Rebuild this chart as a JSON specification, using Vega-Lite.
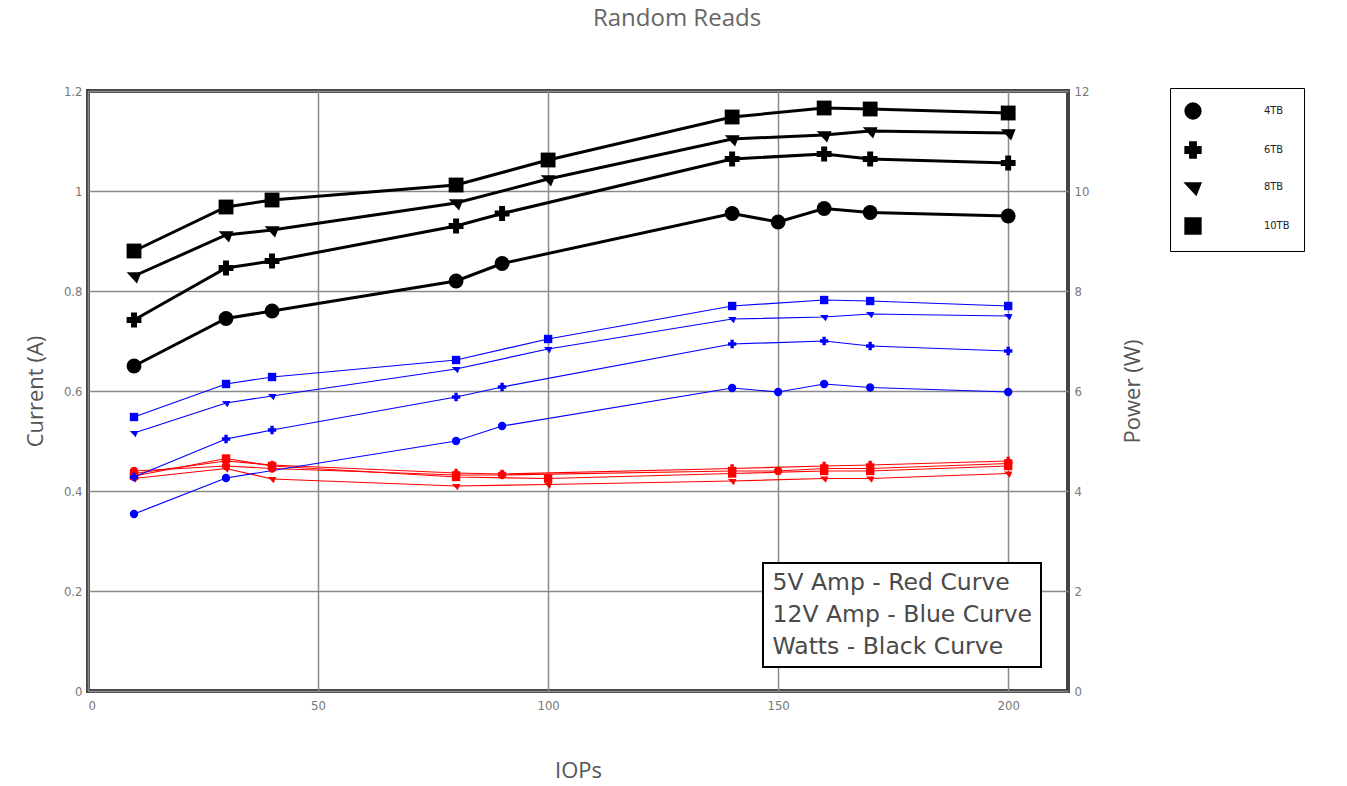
{
  "$schema": "https://vega.github.io/schema/vega-lite/v6.json",
  "width": 980,
  "height": 600,
  "autosize": {"type": "none"},
  "padding": {"left": 88, "top": 91, "right": 279, "bottom": 95},
  "background": "white",
  "config": {
    "view": {"stroke": "#444444", "strokeWidth": 4},
    "axis": {
      "labelFont": "DejaVu Sans Condensed",
      "labelFontSize": 13,
      "labelColor": "#777777",
      "titleFont": "Open Sans",
      "titleFontSize": 22,
      "titleFontWeight": "normal",
      "titleColor": "#555555",
      "gridColor": "#8a8a8a",
      "gridWidth": 1.5,
      "gridOpacity": 1,
      "domain": false,
      "ticks": false
    }
  },
  "title": {
    "text": "Random Reads",
    "font": "Open Sans",
    "fontSize": 24,
    "fontWeight": "normal",
    "color": "#666666",
    "anchor": "middle",
    "dx": 99,
    "offset": 54
  },
  "datasets": {
    "amps": [
      {"iops": 10, "amps": 0.44, "drive": "4TB", "curve": "5V Amp - Red Curve"},
      {"iops": 30, "amps": 0.45, "drive": "4TB", "curve": "5V Amp - Red Curve"},
      {"iops": 40, "amps": 0.445, "drive": "4TB", "curve": "5V Amp - Red Curve"},
      {"iops": 80, "amps": 0.432, "drive": "4TB", "curve": "5V Amp - Red Curve"},
      {"iops": 90, "amps": 0.432, "drive": "4TB", "curve": "5V Amp - Red Curve"},
      {"iops": 140, "amps": 0.44, "drive": "4TB", "curve": "5V Amp - Red Curve"},
      {"iops": 150, "amps": 0.44, "drive": "4TB", "curve": "5V Amp - Red Curve"},
      {"iops": 160, "amps": 0.445, "drive": "4TB", "curve": "5V Amp - Red Curve"},
      {"iops": 170, "amps": 0.445, "drive": "4TB", "curve": "5V Amp - Red Curve"},
      {"iops": 200, "amps": 0.455, "drive": "4TB", "curve": "5V Amp - Red Curve"},
      {"iops": 10, "amps": 0.435, "drive": "6TB", "curve": "5V Amp - Red Curve"},
      {"iops": 30, "amps": 0.46, "drive": "6TB", "curve": "5V Amp - Red Curve"},
      {"iops": 40, "amps": 0.452, "drive": "6TB", "curve": "5V Amp - Red Curve"},
      {"iops": 80, "amps": 0.436, "drive": "6TB", "curve": "5V Amp - Red Curve"},
      {"iops": 90, "amps": 0.434, "drive": "6TB", "curve": "5V Amp - Red Curve"},
      {"iops": 140, "amps": 0.445, "drive": "6TB", "curve": "5V Amp - Red Curve"},
      {"iops": 160, "amps": 0.45, "drive": "6TB", "curve": "5V Amp - Red Curve"},
      {"iops": 170, "amps": 0.452, "drive": "6TB", "curve": "5V Amp - Red Curve"},
      {"iops": 200, "amps": 0.46, "drive": "6TB", "curve": "5V Amp - Red Curve"},
      {"iops": 10, "amps": 0.425, "drive": "8TB", "curve": "5V Amp - Red Curve"},
      {"iops": 30, "amps": 0.445, "drive": "8TB", "curve": "5V Amp - Red Curve"},
      {"iops": 40, "amps": 0.424, "drive": "8TB", "curve": "5V Amp - Red Curve"},
      {"iops": 80, "amps": 0.41, "drive": "8TB", "curve": "5V Amp - Red Curve"},
      {"iops": 100, "amps": 0.413, "drive": "8TB", "curve": "5V Amp - Red Curve"},
      {"iops": 140, "amps": 0.42, "drive": "8TB", "curve": "5V Amp - Red Curve"},
      {"iops": 160, "amps": 0.425, "drive": "8TB", "curve": "5V Amp - Red Curve"},
      {"iops": 170, "amps": 0.425, "drive": "8TB", "curve": "5V Amp - Red Curve"},
      {"iops": 200, "amps": 0.435, "drive": "8TB", "curve": "5V Amp - Red Curve"},
      {"iops": 10, "amps": 0.43, "drive": "10TB", "curve": "5V Amp - Red Curve"},
      {"iops": 30, "amps": 0.465, "drive": "10TB", "curve": "5V Amp - Red Curve"},
      {"iops": 40, "amps": 0.45, "drive": "10TB", "curve": "5V Amp - Red Curve"},
      {"iops": 80, "amps": 0.428, "drive": "10TB", "curve": "5V Amp - Red Curve"},
      {"iops": 100, "amps": 0.425, "drive": "10TB", "curve": "5V Amp - Red Curve"},
      {"iops": 140, "amps": 0.435, "drive": "10TB", "curve": "5V Amp - Red Curve"},
      {"iops": 160, "amps": 0.44, "drive": "10TB", "curve": "5V Amp - Red Curve"},
      {"iops": 170, "amps": 0.44, "drive": "10TB", "curve": "5V Amp - Red Curve"},
      {"iops": 200, "amps": 0.45, "drive": "10TB", "curve": "5V Amp - Red Curve"},
      {"iops": 10, "amps": 0.354, "drive": "4TB", "curve": "12V Amp - Blue Curve"},
      {"iops": 30, "amps": 0.426, "drive": "4TB", "curve": "12V Amp - Blue Curve"},
      {"iops": 80, "amps": 0.5, "drive": "4TB", "curve": "12V Amp - Blue Curve"},
      {"iops": 90, "amps": 0.53, "drive": "4TB", "curve": "12V Amp - Blue Curve"},
      {"iops": 140, "amps": 0.606, "drive": "4TB", "curve": "12V Amp - Blue Curve"},
      {"iops": 150, "amps": 0.598, "drive": "4TB", "curve": "12V Amp - Blue Curve"},
      {"iops": 160, "amps": 0.614, "drive": "4TB", "curve": "12V Amp - Blue Curve"},
      {"iops": 170, "amps": 0.607, "drive": "4TB", "curve": "12V Amp - Blue Curve"},
      {"iops": 200, "amps": 0.598, "drive": "4TB", "curve": "12V Amp - Blue Curve"},
      {"iops": 10, "amps": 0.428, "drive": "6TB", "curve": "12V Amp - Blue Curve"},
      {"iops": 30, "amps": 0.504, "drive": "6TB", "curve": "12V Amp - Blue Curve"},
      {"iops": 40, "amps": 0.522, "drive": "6TB", "curve": "12V Amp - Blue Curve"},
      {"iops": 80, "amps": 0.588, "drive": "6TB", "curve": "12V Amp - Blue Curve"},
      {"iops": 90, "amps": 0.608, "drive": "6TB", "curve": "12V Amp - Blue Curve"},
      {"iops": 140, "amps": 0.694, "drive": "6TB", "curve": "12V Amp - Blue Curve"},
      {"iops": 160, "amps": 0.7, "drive": "6TB", "curve": "12V Amp - Blue Curve"},
      {"iops": 170, "amps": 0.69, "drive": "6TB", "curve": "12V Amp - Blue Curve"},
      {"iops": 200, "amps": 0.68, "drive": "6TB", "curve": "12V Amp - Blue Curve"},
      {"iops": 10, "amps": 0.516, "drive": "8TB", "curve": "12V Amp - Blue Curve"},
      {"iops": 30, "amps": 0.576, "drive": "8TB", "curve": "12V Amp - Blue Curve"},
      {"iops": 40, "amps": 0.59, "drive": "8TB", "curve": "12V Amp - Blue Curve"},
      {"iops": 80, "amps": 0.644, "drive": "8TB", "curve": "12V Amp - Blue Curve"},
      {"iops": 100, "amps": 0.684, "drive": "8TB", "curve": "12V Amp - Blue Curve"},
      {"iops": 140, "amps": 0.744, "drive": "8TB", "curve": "12V Amp - Blue Curve"},
      {"iops": 160, "amps": 0.748, "drive": "8TB", "curve": "12V Amp - Blue Curve"},
      {"iops": 170, "amps": 0.754, "drive": "8TB", "curve": "12V Amp - Blue Curve"},
      {"iops": 200, "amps": 0.75, "drive": "8TB", "curve": "12V Amp - Blue Curve"},
      {"iops": 10, "amps": 0.548, "drive": "10TB", "curve": "12V Amp - Blue Curve"},
      {"iops": 30, "amps": 0.614, "drive": "10TB", "curve": "12V Amp - Blue Curve"},
      {"iops": 40, "amps": 0.628, "drive": "10TB", "curve": "12V Amp - Blue Curve"},
      {"iops": 80, "amps": 0.662, "drive": "10TB", "curve": "12V Amp - Blue Curve"},
      {"iops": 100, "amps": 0.704, "drive": "10TB", "curve": "12V Amp - Blue Curve"},
      {"iops": 140, "amps": 0.77, "drive": "10TB", "curve": "12V Amp - Blue Curve"},
      {"iops": 160, "amps": 0.782, "drive": "10TB", "curve": "12V Amp - Blue Curve"},
      {"iops": 170, "amps": 0.78, "drive": "10TB", "curve": "12V Amp - Blue Curve"},
      {"iops": 200, "amps": 0.77, "drive": "10TB", "curve": "12V Amp - Blue Curve"}
    ],
    "watts": [
      {"iops": 10, "watts": 6.5, "drive": "4TB", "curve": "Watts - Black Curve"},
      {"iops": 30, "watts": 7.45, "drive": "4TB", "curve": "Watts - Black Curve"},
      {"iops": 40, "watts": 7.6, "drive": "4TB", "curve": "Watts - Black Curve"},
      {"iops": 80, "watts": 8.2, "drive": "4TB", "curve": "Watts - Black Curve"},
      {"iops": 90, "watts": 8.55, "drive": "4TB", "curve": "Watts - Black Curve"},
      {"iops": 140, "watts": 9.55, "drive": "4TB", "curve": "Watts - Black Curve"},
      {"iops": 150, "watts": 9.38, "drive": "4TB", "curve": "Watts - Black Curve"},
      {"iops": 160, "watts": 9.65, "drive": "4TB", "curve": "Watts - Black Curve"},
      {"iops": 170, "watts": 9.57, "drive": "4TB", "curve": "Watts - Black Curve"},
      {"iops": 200, "watts": 9.5, "drive": "4TB", "curve": "Watts - Black Curve"},
      {"iops": 10, "watts": 7.42, "drive": "6TB", "curve": "Watts - Black Curve"},
      {"iops": 30, "watts": 8.46, "drive": "6TB", "curve": "Watts - Black Curve"},
      {"iops": 40, "watts": 8.6, "drive": "6TB", "curve": "Watts - Black Curve"},
      {"iops": 80, "watts": 9.3, "drive": "6TB", "curve": "Watts - Black Curve"},
      {"iops": 90, "watts": 9.55, "drive": "6TB", "curve": "Watts - Black Curve"},
      {"iops": 140, "watts": 10.64, "drive": "6TB", "curve": "Watts - Black Curve"},
      {"iops": 160, "watts": 10.74, "drive": "6TB", "curve": "Watts - Black Curve"},
      {"iops": 170, "watts": 10.64, "drive": "6TB", "curve": "Watts - Black Curve"},
      {"iops": 200, "watts": 10.56, "drive": "6TB", "curve": "Watts - Black Curve"},
      {"iops": 10, "watts": 8.3, "drive": "8TB", "curve": "Watts - Black Curve"},
      {"iops": 30, "watts": 9.12, "drive": "8TB", "curve": "Watts - Black Curve"},
      {"iops": 40, "watts": 9.22, "drive": "8TB", "curve": "Watts - Black Curve"},
      {"iops": 80, "watts": 9.76, "drive": "8TB", "curve": "Watts - Black Curve"},
      {"iops": 100, "watts": 10.24, "drive": "8TB", "curve": "Watts - Black Curve"},
      {"iops": 140, "watts": 11.04, "drive": "8TB", "curve": "Watts - Black Curve"},
      {"iops": 160, "watts": 11.12, "drive": "8TB", "curve": "Watts - Black Curve"},
      {"iops": 170, "watts": 11.2, "drive": "8TB", "curve": "Watts - Black Curve"},
      {"iops": 200, "watts": 11.16, "drive": "8TB", "curve": "Watts - Black Curve"},
      {"iops": 10, "watts": 8.8, "drive": "10TB", "curve": "Watts - Black Curve"},
      {"iops": 30, "watts": 9.68, "drive": "10TB", "curve": "Watts - Black Curve"},
      {"iops": 40, "watts": 9.82, "drive": "10TB", "curve": "Watts - Black Curve"},
      {"iops": 80, "watts": 10.12, "drive": "10TB", "curve": "Watts - Black Curve"},
      {"iops": 100, "watts": 10.62, "drive": "10TB", "curve": "Watts - Black Curve"},
      {"iops": 140, "watts": 11.48, "drive": "10TB", "curve": "Watts - Black Curve"},
      {"iops": 160, "watts": 11.66, "drive": "10TB", "curve": "Watts - Black Curve"},
      {"iops": 170, "watts": 11.64, "drive": "10TB", "curve": "Watts - Black Curve"},
      {"iops": 200, "watts": 11.56, "drive": "10TB", "curve": "Watts - Black Curve"}
    ]
  },
  "layer": [
    {
      "data": {"name": "amps"},
      "encoding": {
        "x": {
          "field": "iops", "type": "quantitative",
          "scale": {"domain": [0, 213], "nice": false, "zero": false},
          "axis": {"title": "IOPs", "values": [0, 50, 100, 150, 200], "labelPadding": 8, "titlePadding": 48}
        },
        "y": {
          "field": "amps", "type": "quantitative",
          "scale": {"domain": [0, 1.2], "nice": false},
          "axis": {"title": "Current (A)", "values": [0, 0.2, 0.4, 0.6, 0.8, 1, 1.2], "format": "~g", "labelPadding": 6, "titlePadding": 16}
        },
        "color": {
          "field": "curve", "type": "nominal",
          "scale": {
            "domain": ["5V Amp - Red Curve", "12V Amp - Blue Curve", "Watts - Black Curve"],
            "range": ["#ff0000", "#0000ff", "#000000"]
          },
          "legend": {
            "title": null,
            "orient": "none",
            "legendX": 675,
            "legendY": 472,
            "symbolOpacity": 0,
            "symbolSize": 0,
            "symbolStrokeWidth": 0,
            "labelOffset": -22,
            "labelFont": "DejaVu Sans",
            "labelFontSize": 23.5,
            "labelColor": "#4a4a4a",
            "labelLimit": 400,
            "rowPadding": 7,
            "padding": 8,
            "strokeColor": "#000000",
            "fillColor": "white",
            "encode": {"legend": {"update": {"strokeWidth": {"value": 2}}}}
          }
        },
        "detail": {"field": "drive"}
      },
      "layer": [
        {"mark": {"type": "line", "strokeWidth": 1.2}},
        {
          "mark": {"type": "point", "filled": true, "size": 70, "opacity": 1},
          "encoding": {
            "shape": {
              "field": "drive", "type": "nominal",
              "scale": {
                "domain": ["4TB", "6TB", "8TB", "10TB"],
                "range": ["circle", "cross", "M-1,-0.5L1,-0.5L0.4,1Z", "square"]
              },
              "legend": {
                "title": null,
                "orient": "none",
                "legendX": 1082,
                "legendY": -3,
                "symbolSize": 250,
                "symbolFillColor": "#000000",
                "symbolStrokeColor": "#000000",
                "labelFontSize": 11,
                "labelFont": "DejaVu Sans Condensed",
                "labelColor": "#222222",
                "labelOffset": 62,
                "rowPadding": 17,
                "padding": 14,
                "strokeColor": "#000000",
                "encode": {"symbols": {"update": {"fill": {"value": "#000000"}, "stroke": {"value": "#000000"}, "opacity": {"value": 1}}}}
              }
            }
          }
        }
      ]
    },
    {
      "data": {"name": "watts"},
      "encoding": {
        "x": {"field": "iops", "type": "quantitative"},
        "y": {
          "field": "watts", "type": "quantitative",
          "scale": {"domain": [0, 12], "nice": false},
          "axis": {"orient": "right", "title": "Power (W)", "titleAngle": 270, "titleBaseline": "bottom", "values": [0, 2, 4, 6, 8, 10, 12], "grid": false, "labelPadding": 6, "titlePadding": 56}
        },
        "color": {"field": "curve", "type": "nominal"},
        "detail": {"field": "drive"}
      },
      "layer": [
        {"mark": {"type": "line", "strokeWidth": 3}},
        {
          "mark": {"type": "point", "filled": true, "size": 220, "opacity": 1},
          "encoding": {"shape": {"field": "drive", "type": "nominal"}}
        }
      ]
    }
  ],
  "resolve": {"scale": {"y": "independent"}}
}
